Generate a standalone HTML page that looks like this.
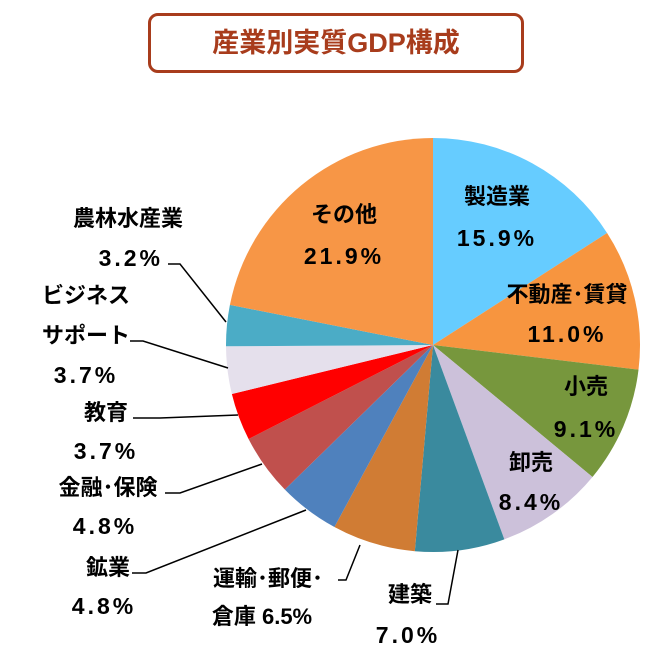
<!DOCTYPE html>
<html><head><meta charset="utf-8"><style>
body{margin:0;width:656px;height:655px;background:#fff;overflow:hidden;font-family:"Liberation Sans","Noto Sans CJK JP",sans-serif}
#title{position:absolute;left:148px;top:13px;width:370px;height:54px;border:3px solid #A83C1C;border-radius:10px;color:#A83C1C;font-weight:bold;font-size:27px;line-height:54px;text-align:center}
svg{position:absolute;left:0;top:0}
text{font-family:"Liberation Sans","Noto Sans CJK JP",sans-serif;font-weight:bold;font-size:22px;fill:#000}
text.val{font-size:23px;letter-spacing:3px}
</style></head><body>
<div id="title">産業別実質GDP構成</div>
<svg id="chart" width="656" height="655">
<g id="slices"></g>
<g id="leaders" fill="none" stroke="#000" stroke-width="1.5">
<polyline points="226,322 180,264 168,264"/>
<polyline points="228,368 143,341 130,341"/>
<polyline points="238,415 160,418 133,418"/>
<polyline points="262,464 180,493 165,493"/>
<polyline points="306,510 146,573 132,573"/>
<polyline points="360,545 346,580 338,580"/>
<polyline points="458,550 448,604 436,604"/>
</g>
<g id="labels"></g>
</svg>
<script>
const categories=["製造業","不動産･賃貸","小売","卸売","建築","運輸･郵便･倉庫","鉱業","金融･保険","教育","ビジネスサポート","農林水産業","その他"];
const values=[15.9,11.0,9.1,8.4,7.0,6.5,4.8,4.8,3.7,3.7,3.2,21.9];
const valueLabels=["15.9%","11.0%","9.1%","8.4%","7.0%","6.5%","4.8%","4.8%","3.7%","3.7%","3.2%","21.9%"];
const colors=["#66CCFF","#F7953F","#77973D","#CCC1DA","#3A8A9E","#D07C34","#4F81BD","#C0504D","#FF0000","#E5E0EC","#4BACC6","#F79646"];
const cx=433,cy=345,r=207;
const total=values.reduce((a,b)=>a+b,0);
const g=document.getElementById('slices');
let acc=0;
function pt(f){const a=f*2*Math.PI-Math.PI/2;return [cx+r*Math.cos(a),cy+r*Math.sin(a)];}
values.forEach((v,i)=>{
  const f0=acc/total,f1=(acc+v)/total;acc+=v;
  const p0=pt(f0),p1=pt(f1);
  const large=(f1-f0)>0.5?1:0;
  const p=document.createElementNS('http://www.w3.org/2000/svg','path');
  p.setAttribute('d',`M${cx},${cy}L${p0[0]},${p0[1]}A${r},${r} 0 ${large} 1 ${p1[0]},${p1[1]}Z`);
  p.setAttribute('fill',colors[i]);
  
  
  g.appendChild(p);
});
// [x, y, anchor, text, isValue]
const lab=[
 [497,204,"middle",categories[0],0],[497,246,"middle",valueLabels[0],1],
 [567,302,"middle","不動産･賃貸",0],[567,342,"middle",valueLabels[1],1],
 [586,394,"middle",categories[2],0],[586,437,"middle",valueLabels[2],1],
 [531,470,"middle",categories[3],0],[531,510,"middle",valueLabels[3],1],
 [410,602,"middle",categories[4],0],[408,643,"middle",valueLabels[4],1],
 [268,586,"middle","運輸･郵便･",0],[262,624,"middle","倉庫 "+valueLabels[5],0],
 [108,575,"middle",categories[6],0],[104,614,"middle",valueLabels[6],1],
 [108,495,"middle","金融･保険",0],[105,534,"middle",valueLabels[7],1],
 [106,420,"middle",categories[8],0],[106,459,"middle",valueLabels[8],1],
 [86,303,"middle","ビジネス",0],[86,343,"middle","サポート",0],[86,383,"middle",valueLabels[9],1],
 [128,226,"middle",categories[10],0],[163,266,"end",valueLabels[10],1],
 [344,222,"middle",categories[11],0],[344,264,"middle",valueLabels[11],1]
];
const lg=document.getElementById('labels');
lab.forEach(([x,y,anc,s,isv])=>{
  const t=document.createElementNS('http://www.w3.org/2000/svg','text');
  t.setAttribute('x',x);t.setAttribute('y',y);t.setAttribute('text-anchor',anc);
  if(isv)t.setAttribute('class','val');
  t.textContent=s;
  
  
  lg.appendChild(t);
});
</script>
</body></html>
